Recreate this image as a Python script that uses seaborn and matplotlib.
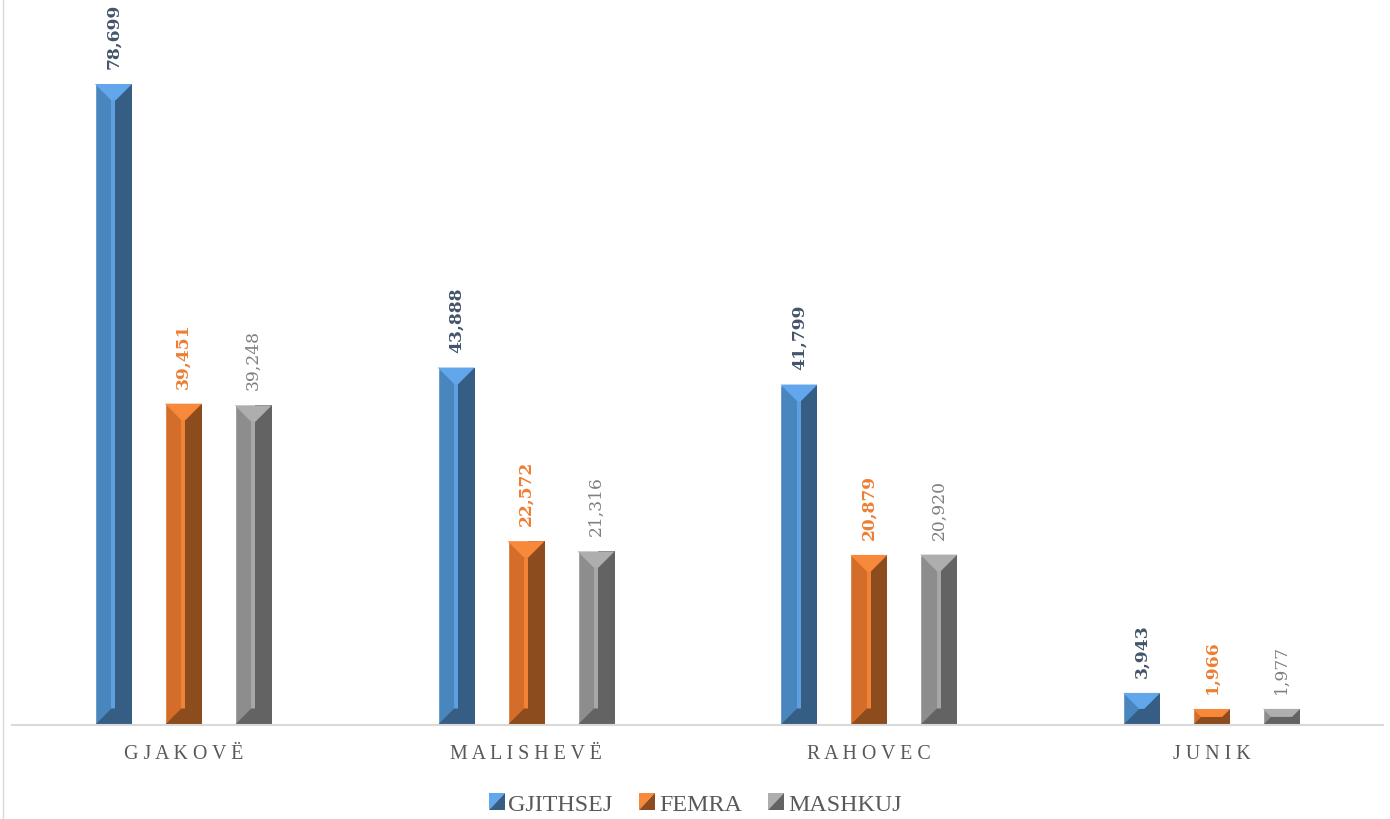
import numpy as np
import pandas as pd
import matplotlib
matplotlib.use("Agg")
import matplotlib.pyplot as plt
import seaborn as sns
from matplotlib.patches import Polygon, Rectangle, Patch
from matplotlib.legend_handler import HandlerBase
from matplotlib.lines import Line2D

# data
municipalities = ["GJAKOVË", "MALISHEVË", "RAHOVEC", "JUNIK"]
series = ["GJITHSEJ", "FEMRA", "MASHKUJ"]
gjithsej = [78699, 43888, 41799, 3943]
femra = [39451, 22572, 20879, 1966]
mashkuj = [39248, 21316, 20920, 1977]

# face / dark / light colours for the beveled bars
face_cols = ["#4A86BE", "#D36D29", "#8D8D8D"]
dark_cols = ["#365E85", "#8C4C1D", "#636363"]
light_cols = ["#62A6EB", "#F8893A", "#AEAEAE"]
label_cols = ["#44546A", "#ED7D31", "#7F7F7F"]
label_weights = ["bold", "bold", "normal"]

df = pd.DataFrame({
    "Municipality": municipalities * 3,
    "Series": [s for s in series for _ in municipalities],
    "Value": gjithsej + femra + mashkuj,
})

sns.set_style("white")
plt.rcParams["font.family"] = ["Liberation Serif", "DejaVu Serif"]

fig = plt.figure(figsize=(13.9, 8.2), dpi=100)
ax = fig.add_axes([12 / 1390, 94 / 820, 1371 / 1390, 716 / 820])

sns.barplot(data=df, x="Municipality", y="Value", hue="Series",
            order=municipalities, hue_order=series, palette=face_cols,
            width=0.612, gap=0.47, legend=False, ax=ax, saturation=1)

ax.set_xlim(-0.5, 3.5)
ax.set_ylim(0, 87906)

# pixels per data unit
px_x = 1371 / 4.0
px_y = 716 / 87906

bevel_px = 16.5
for i, cont in enumerate(ax.containers):
    for bar in cont:
        x0 = bar.get_x()
        w = bar.get_width()
        h = bar.get_height()
        x1 = x0 + w
        xc = x0 + w / 2
        w_px = w * px_x
        h_px = h * px_y
        e_px = min(bevel_px, h_px / 2, w_px / 2)
        ex = e_px / px_x
        ey = e_px / px_y
        strip = 2.0 / px_x
        # dark right half
        ax.add_patch(Rectangle((xc + strip, 0), x1 - xc - strip, h,
                               color=dark_cols[i], lw=0, zorder=3))
        # light centre strip
        ax.add_patch(Rectangle((xc - strip, ey), 2 * strip, max(h - 2 * ey, 0),
                               color=light_cols[i], lw=0, zorder=3, alpha=0.8))
        # top bevel
        ax.add_patch(Polygon([(x0, h), (x1, h), (x1 - ex, h - ey), (x0 + ex, h - ey)],
                             closed=True, color=light_cols[i], lw=0, zorder=4))
        # bottom bevel
        ax.add_patch(Polygon([(x0, 0), (x1, 0), (x1 - ex, ey), (x0 + ex, ey)],
                             closed=True, color=dark_cols[i], lw=0, zorder=4))
        ax.annotate(f"{int(round(h)):,}", (xc, h), xytext=(0, 11.5),
                    textcoords="offset points", rotation=90, ha="center",
                    va="bottom", color=label_cols[i], fontsize=12.3,
                    fontweight=label_weights[i], family="DejaVu Serif")

for s in ["top", "left", "right"]:
    ax.spines[s].set_visible(False)
ax.spines["bottom"].set_color("#D9D9D9")
ax.spines["bottom"].set_linewidth(1.5)
ax.spines["bottom"].set_zorder(5)
ax.set_yticks([])
ax.set_xlabel("")
ax.set_ylabel("")
ax.set_xticks(range(len(municipalities)))
ax.set_xticklabels([" ".join(m) for m in municipalities], color="#595959",
                   fontsize=14.4)
ax.tick_params(axis="x", length=0, pad=14)


class BevelHandler(HandlerBase):
    def __init__(self, light, dark):
        super().__init__()
        self.light = light
        self.dark = dark

    def create_artists(self, legend, orig_handle, xdescent, ydescent,
                       width, height, fontsize, trans):
        x0, y0 = -xdescent, -ydescent
        s = min(width, height)
        up = Polygon([(x0, y0), (x0, y0 + s), (x0 + s, y0 + s)], closed=True,
                     color=self.light, lw=0, transform=trans)
        lo = Polygon([(x0, y0), (x0 + s, y0), (x0 + s, y0 + s)], closed=True,
                     color=self.dark, lw=0, transform=trans)
        return [up, lo]


handles = [Patch(color=c) for c in face_cols]
hmap = {h: BevelHandler(light_cols[i], dark_cols[i]) for i, h in enumerate(handles)}
fig.legend(handles, series, handler_map=hmap, loc="center",
           bbox_to_anchor=(0.5, 15 / 820), ncol=3, frameon=False,
           fontsize=17.3, labelcolor="#595959", handlelength=0.67,
           handleheight=0.67, handletextpad=0.15, columnspacing=1.1)

fig.add_artist(Line2D([2.5 / 1390, 2.5 / 1390], [0, 1], color="#D9D9D9", lw=1,
                      transform=fig.transFigure))

fig.savefig("out.png", dpi=100)
